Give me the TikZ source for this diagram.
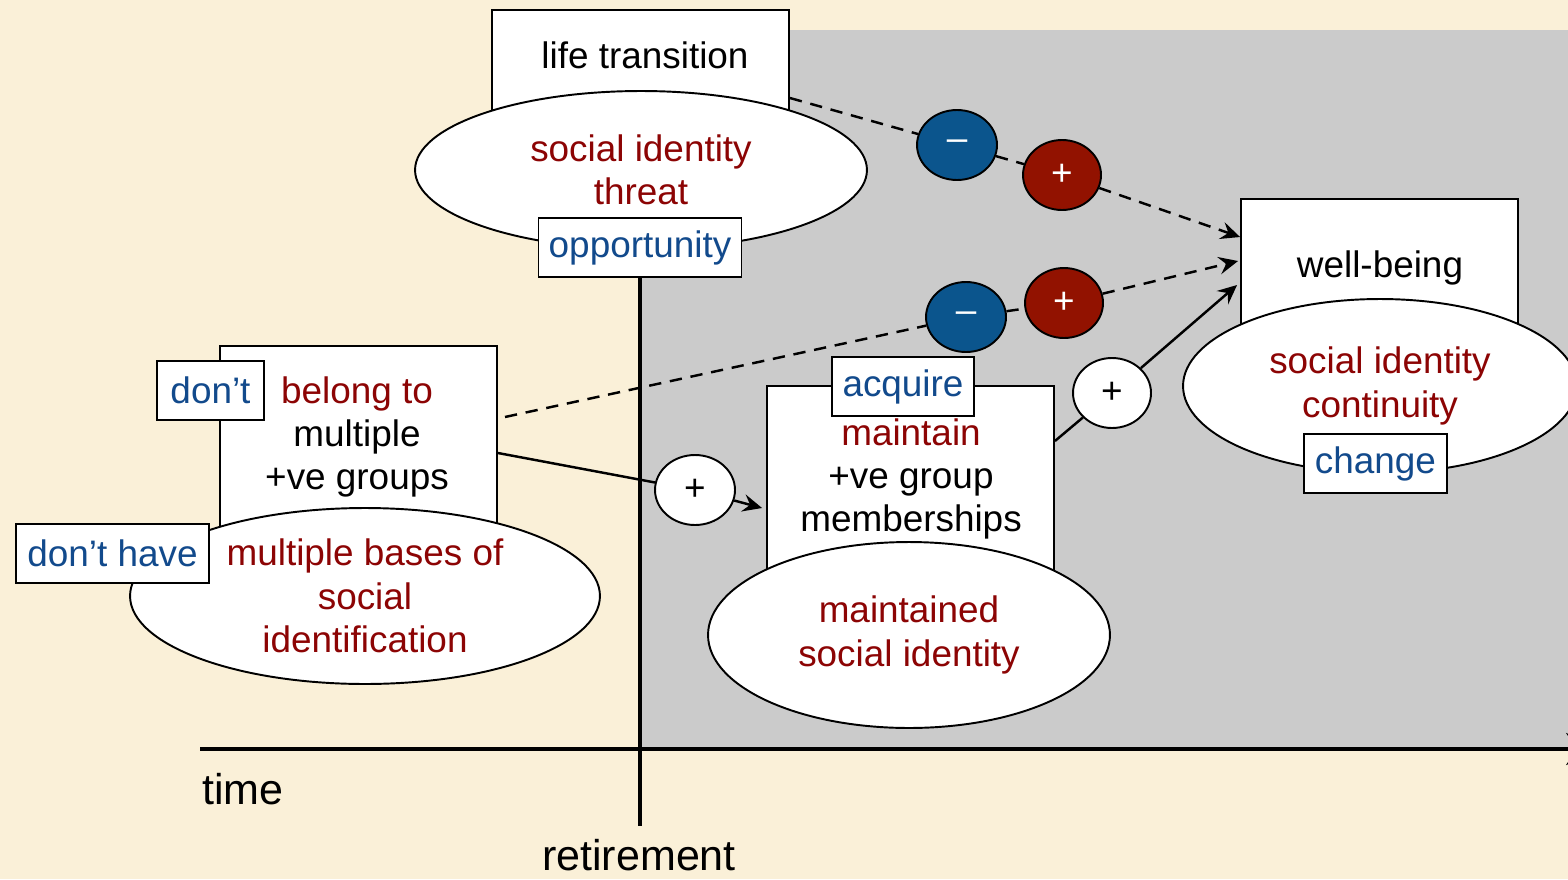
\documentclass[tikz,border=0pt]{standalone}
\usepackage{fontspec}
\setmainfont{Liberation Sans}
\usetikzlibrary{shapes.geometric,arrows.meta}
\definecolor{paper}{RGB}{250,240,216}
\definecolor{panelgrey}{RGB}{203,203,203}
\definecolor{dred}{RGB}{140,4,4}
\definecolor{dblue}{RGB}{18,74,140}
\definecolor{cblue}{RGB}{11,85,141}
\definecolor{cred}{RGB}{146,18,0}
\begin{document}
\begin{tikzpicture}[x=0.02cm,y=-0.02cm,
  font=\fontsize{21pt}{24.7pt}\selectfont,
  box/.style={draw, line width=1.1pt, fill=white, inner sep=0pt},
  oval/.style={ellipse, draw, line width=1.1pt, fill=white, inner sep=0pt, align=center, text=dred},
  tag/.style={draw, line width=1.1pt, fill=white, inner sep=0pt, minimum height=1.18cm, text=dblue},
  sign/.style={ellipse, draw, line width=1.1pt, inner sep=0pt, minimum width=1.56cm, minimum height=1.4cm},
  negsign/.style={sign, fill=cblue, text=white},
  possign/.style={sign, fill=cred, text=white},
  plainsign/.style={sign, fill=white, text=black},
  axislabel/.style={font=\fontsize{24.5pt}{28pt}\selectfont},
  link/.style={line width=1.4pt},
  dlink/.style={link, dash pattern=on 7pt off 5pt},
  >={Stealth[length=11pt,width=10pt,inset=4pt]}]
\useasboundingbox (0,0) rectangle (1568,879);
% paper and the shaded post-retirement region
\fill[paper] (0,0) rectangle (1568,879);
\fill[panelgrey] (640,30) rectangle (1568,749);

% time axis
\draw[line width=2.8pt, -{Stealth[length=22pt,width=18pt,inset=6pt]}] (200,749) -- (1605,749);
\node[axislabel] (time) at (243,789) {time};
\node[axislabel] (retire) at (639,855) {retirement};

% life transition
\node[box, minimum width=5.94cm, minimum height=3.52cm] (lt) at (640.5,98) {};
\node (lttxt) at (645,55) {life transition};
\node[oval, minimum width=9.04cm, minimum height=3.16cm] (threat) at (641,170) {social identity\\threat};
\node[tag, minimum width=4.06cm] (opp) at (640,247.5) {opportunity};
\draw[line width=2.3pt] (opp.south) -- ++(0,548);

% group memberships before retirement
\node[box, minimum width=5.54cm, minimum height=4.28cm] (belong) at (358.5,453) {};
\node[align=center] (belongtxt) at (357,437) {\textcolor{dred}{belong to}\\multiple\\+ve groups};
\node[tag, minimum width=2.14cm] (dont) at (210.5,390.5) {don’t};
\node[oval, minimum width=9.4cm, minimum height=3.52cm] (bases) at (365,596) {multiple bases of\\social\\identification};
\node[tag, minimum width=3.86cm] (donthave) at (112.5,553.5) {don’t have};

% group memberships after retirement
\node[box, minimum width=5.74cm, minimum height=4.28cm] (mid) at (910.5,493) {};
\node[align=center] (midtxt) at (911,479) {\textcolor{dred}{maintain}\\+ve group\\memberships};
\node[oval, minimum width=8.04cm, minimum height=3.72cm] (maint) at (909,635) {maintained\\social identity};
\node[tag, minimum width=2.84cm] (acquire) at (903,386.5) {acquire};

% outcome
\node[box, minimum width=5.54cm, minimum height=3.62cm] (wb) at (1379.5,289.5) {};
\node (wbtxt) at (1380,268) {well-being};
\node[oval, minimum width=7.88cm, minimum height=3.48cm] (cont) at (1380,386) {social identity\\continuity};
\node[tag, minimum width=2.86cm] (change) at (1375.5,463.5) {change};

% signed paths
\node[negsign, minimum width=1.6cm] (m1) at (957,145) {–};
\node[possign] (p1) at (1062,175) {+};
\node[negsign, minimum width=1.6cm] (m2) at (966,317) {–};
\node[possign] (p2) at (1064,303) {+};
\node[plainsign, minimum width=1.6cm] (c1) at (695,490) {+};
\node[plainsign] (c2) at (1112,393) {+};

\coordinate (bfrom) at (505,417);
\draw[dlink] (lt.east) -- (m1);
\draw[dlink] (m1) -- (p1);
\draw[dlink,->] (p1) -- ([yshift=1.05cm]wb.west);
\draw[dlink] (bfrom) -- (m2);
\draw[dlink] (m2) -- (p2);
\draw[dlink,->] (p2) -- ([xshift=-0.04cm,yshift=0.57cm]wb.west);
\draw[link] (belong.east) -- (c1);
\draw[link,->] (c1) -- ([xshift=-0.08cm,yshift=-0.3cm]mid.west);
\draw[link] ([yshift=1.04cm]mid.east) -- (c2);
\draw[link,->] (c2) -- ([xshift=-0.06cm,yshift=0.09cm]wb.west);
\end{tikzpicture}
\end{document}
